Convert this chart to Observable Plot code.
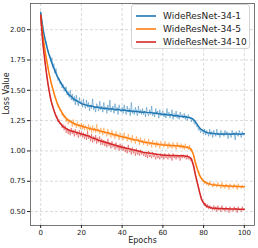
<!DOCTYPE html>
<html>
<head>
<meta charset="utf-8">
<script src="https://cdn.jsdelivr.net/npm/d3@7"></script>
<script src="https://cdn.jsdelivr.net/npm/@observablehq/plot@0.6"></script>
<style>
  body { margin: 0; background: #fff; }
  #wrap { position: relative; width: 258px; height: 248px; font-family: "DejaVu Sans", sans-serif; }
  #legend { position: absolute; left: 131px; top: 4px; width: 119px; height: 45px; box-sizing: border-box;
    border: 1px solid #d4d4d4; border-radius: 3px; background: rgba(255,255,255,0.85); padding-top: 4px; }
  .row { height: 13px; display: flex; align-items: center; font-size: 9px; color: #222; white-space: nowrap; }
  .row svg { margin-left: 4px; margin-right: 7px; display: block; }
</style>
</head>
<body>
<div id="wrap"></div>
<script>
const seriesNames = ["WideResNet-34-1", "WideResNet-34-5", "WideResNet-34-10"];
const seriesColors = ["#1f77b4", "#ff7f0e", "#d62728"];
const xTicks = [0, 20, 40, 60, 80, 100];
const yTicks = [0.5, 0.75, 1.0, 1.25, 1.5, 1.75, 2.0];

// smoothed loss per epoch (0..100)
const blueMean = [
  2.14,2.02,1.93,1.86,1.80,1.75,1.70,1.66,1.62,1.59,
  1.56,1.53,1.51,1.48,1.46,1.45,1.43,1.42,1.41,1.40,
  1.39,1.385,1.38,1.375,1.37,1.372,1.365,1.36,1.362,1.355,
  1.355,1.35,1.352,1.348,1.346,1.348,1.342,1.34,1.343,1.338,
  1.335,1.337,1.333,1.33,1.332,1.328,1.326,1.328,1.323,1.322,
  1.32,1.322,1.318,1.316,1.318,1.313,1.31,1.312,1.306,1.304,
  1.30,1.303,1.298,1.296,1.298,1.292,1.29,1.292,1.286,1.284,
  1.282,1.284,1.278,1.275,1.27,1.26,1.24,1.215,1.19,1.175,
  1.165,1.155,1.15,1.148,1.145,1.143,1.142,1.14,1.14,1.138,
  1.14,1.139,1.14,1.138,1.14,1.141,1.139,1.14,1.138,1.14,1.142
];
const orangeMean = [
  2.12,1.96,1.84,1.74,1.65,1.57,1.51,1.45,1.40,1.36,
  1.33,1.30,1.28,1.26,1.25,1.24,1.23,1.22,1.215,1.21,
  1.205,1.20,1.195,1.19,1.185,1.18,1.178,1.175,1.17,1.165,
  1.16,1.157,1.153,1.15,1.145,1.14,1.135,1.13,1.125,1.12,
  1.117,1.113,1.11,1.105,1.10,1.097,1.093,1.09,1.085,1.08,
  1.075,1.072,1.07,1.067,1.065,1.062,1.06,1.058,1.055,1.052,
  1.05,1.048,1.047,1.046,1.045,1.044,1.043,1.042,1.04,1.038,
  1.035,1.032,1.03,1.025,1.01,0.97,0.90,0.845,0.80,0.77,
  0.75,0.74,0.732,0.727,0.722,0.72,0.718,0.716,0.715,0.714,
  0.713,0.712,0.71,0.71,0.709,0.708,0.707,0.706,0.706,0.705,0.705
];
const redMean = [
  2.12,1.90,1.75,1.62,1.51,1.42,1.36,1.31,1.27,1.24,
  1.22,1.20,1.19,1.18,1.17,1.165,1.16,1.155,1.15,1.145,
  1.14,1.135,1.13,1.125,1.12,1.11,1.105,1.10,1.09,1.085,
  1.08,1.075,1.07,1.065,1.06,1.055,1.05,1.045,1.04,1.035,
  1.03,1.027,1.023,1.02,1.015,1.01,1.007,1.003,1.0,0.995,
  0.99,0.988,0.985,0.982,0.98,0.978,0.975,0.972,0.97,0.968,
  0.965,0.965,0.964,0.963,0.963,0.962,0.962,0.961,0.96,0.96,
  0.96,0.958,0.955,0.95,0.935,0.88,0.80,0.73,0.66,0.60,
  0.57,0.55,0.54,0.535,0.53,0.528,0.527,0.526,0.525,0.525,
  0.524,0.523,0.523,0.522,0.522,0.521,0.521,0.52,0.52,0.52,0.52
];

// raw (noisy) loss, two readings per epoch (epoch 0, 0.5, 1, ... 100)
const blueRaw = [
  2.15,2.09,2.04,1.97,1.94,1.91,1.88,1.82,1.80,1.79,1.74,1.77,1.69,1.72,1.64,1.68,1.63,1.58,1.60,1.55,
  1.57,1.52,1.55,1.49,1.51,1.53,1.46,1.49,1.44,1.50,1.42,1.47,1.41,1.45,1.38,1.46,1.40,1.37,1.44,1.39,
  1.41,1.36,1.43,1.37,1.35,1.42,1.36,1.40,1.33,1.38,1.35,1.43,1.34,1.37,1.32,1.39,1.36,1.33,1.41,1.34,
  1.37,1.32,1.40,1.34,1.36,1.31,1.38,1.33,1.42,1.32,1.35,1.37,1.31,1.39,1.33,1.36,1.30,1.38,1.34,1.32,
  1.36,1.31,1.38,1.33,1.30,1.37,1.32,1.35,1.29,1.40,1.31,1.34,1.30,1.36,1.32,1.29,1.37,1.31,1.34,1.30,
  1.35,1.30,1.33,1.28,1.36,1.31,1.29,1.34,1.30,1.37,1.29,1.32,1.28,1.35,1.30,1.33,1.27,1.34,1.29,1.31,
  1.33,1.28,1.31,1.27,1.35,1.29,1.32,1.27,1.30,1.34,1.26,1.31,1.28,1.33,1.27,1.30,1.26,1.32,1.28,1.30,
  1.27,1.31,1.26,1.29,1.25,1.30,1.27,1.28,1.24,1.27,1.25,1.22,1.24,1.20,1.21,1.17,1.19,1.15,1.18,1.16,
  1.14,1.18,1.13,1.17,1.15,1.12,1.18,1.13,1.16,1.11,1.17,1.14,1.12,1.18,1.13,1.15,1.11,1.17,1.13,1.15,
  1.12,1.17,1.13,1.16,1.10,1.15,1.14,1.11,1.17,1.13,1.15,1.09,1.16,1.13,1.12,1.17,1.14,1.11,1.16,1.13,1.14
];
const orangeRaw = [
  2.12,2.03,1.97,1.89,1.84,1.78,1.74,1.69,1.64,1.61,1.58,1.52,1.51,1.47,1.44,1.42,1.39,1.36,1.37,1.33,
  1.34,1.29,1.31,1.27,1.29,1.24,1.27,1.22,1.26,1.23,1.25,1.20,1.26,1.21,1.23,1.19,1.24,1.20,1.22,1.18,
  1.23,1.18,1.22,1.17,1.21,1.19,1.16,1.22,1.17,1.20,1.15,1.21,1.16,1.19,1.15,1.22,1.16,1.18,1.14,1.19,
  1.17,1.13,1.19,1.14,1.16,1.12,1.18,1.13,1.15,1.11,1.17,1.12,1.14,1.10,1.16,1.12,1.14,1.09,1.15,1.11,
  1.13,1.09,1.15,1.10,1.12,1.08,1.14,1.09,1.11,1.07,1.13,1.08,1.10,1.06,1.12,1.08,1.10,1.05,1.11,1.07,
  1.09,1.05,1.10,1.06,1.08,1.04,1.10,1.05,1.07,1.03,1.09,1.05,1.07,1.03,1.08,1.04,1.06,1.02,1.08,1.04,
  1.06,1.03,1.08,1.04,1.06,1.02,1.07,1.03,1.05,1.02,1.07,1.03,1.05,1.01,1.07,1.03,1.05,1.02,1.06,1.02,
  1.05,1.01,1.06,1.02,1.04,1.01,1.05,1.00,1.02,0.99,0.98,0.95,0.91,0.89,0.85,0.84,0.81,0.78,0.78,0.76,
  0.76,0.73,0.75,0.72,0.74,0.71,0.75,0.72,0.73,0.70,0.74,0.71,0.73,0.70,0.74,0.71,0.72,0.69,0.74,0.70,
  0.72,0.69,0.73,0.70,0.72,0.68,0.73,0.70,0.71,0.69,0.73,0.70,0.72,0.68,0.73,0.70,0.71,0.69,0.72,0.70,0.71
];
const redRaw = [
  2.11,1.99,1.91,1.82,1.76,1.68,1.63,1.55,1.52,1.45,1.44,1.38,1.37,1.33,1.32,1.28,1.29,1.24,1.26,1.22,
  1.23,1.19,1.22,1.17,1.21,1.15,1.19,1.14,1.18,1.13,1.19,1.14,1.17,1.12,1.18,1.13,1.16,1.11,1.17,1.12,
  1.16,1.11,1.15,1.10,1.14,1.09,1.16,1.10,1.13,1.08,1.14,1.07,1.12,1.08,1.13,1.06,1.11,1.07,1.12,1.05,
  1.10,1.05,1.09,1.04,1.08,1.03,1.10,1.04,1.07,1.02,1.08,1.03,1.06,1.01,1.07,1.02,1.05,1.00,1.06,1.01,
  1.05,1.00,1.04,0.99,1.03,0.98,1.05,0.99,1.02,0.97,1.03,0.98,1.01,0.96,1.02,0.97,1.00,0.96,1.01,0.97,
  1.00,0.96,0.99,0.95,0.98,0.94,1.00,0.95,0.97,0.94,0.99,0.95,0.97,0.93,0.98,0.94,0.96,0.93,0.98,0.94,
  0.97,0.93,0.98,0.94,0.96,0.93,0.98,0.94,0.96,0.92,0.98,0.94,0.96,0.93,0.97,0.94,0.96,0.92,0.97,0.94,
  0.97,0.94,0.96,0.93,0.97,0.93,0.95,0.92,0.94,0.91,0.90,0.86,0.81,0.78,0.74,0.71,0.67,0.64,0.61,0.58,
  0.58,0.55,0.57,0.53,0.56,0.52,0.55,0.52,0.54,0.51,0.55,0.51,0.54,0.50,0.55,0.51,0.53,0.50,0.55,0.51,
  0.53,0.50,0.54,0.51,0.53,0.49,0.54,0.51,0.52,0.50,0.54,0.51,0.53,0.49,0.54,0.51,0.52,0.50,0.54,0.51,0.52
];

const means = [blueMean, orangeMean, redMean];
const raws = [blueRaw, orangeRaw, redRaw];
const meanRows = [];
const rawRows = [];
seriesNames.forEach((name, s) => {
  means[s].forEach((v, i) => meanRows.push({series: name, epoch: i, loss: v}));
  raws[s].forEach((v, k) => rawRows.push({series: name, epoch: k / 2, loss: v}));
});

const chart = Plot.plot({
  width: 258,
  height: 248,
  marginTop: 3,
  marginRight: 4,
  marginBottom: 23,
  marginLeft: 30,
  style: {fontFamily: "DejaVu Sans, sans-serif", fontSize: "7px", color: "#222", background: "transparent"},
  x: {domain: [-5, 105]},
  y: {domain: [0.385, 2.216]},
  color: {domain: seriesNames, range: seriesColors},
  marks: [
    Plot.gridX(xTicks, {stroke: "#b0b0b0", strokeOpacity: 0.8, strokeDasharray: "3,2", strokeWidth: 0.6}),
    Plot.gridY(yTicks, {stroke: "#b0b0b0", strokeOpacity: 0.8, strokeDasharray: "3,2", strokeWidth: 0.6}),
    Plot.lineY(rawRows, {x: "epoch", y: "loss", z: "series", stroke: "series", strokeOpacity: 0.45, strokeWidth: 1}),
    Plot.lineY(meanRows, {x: "epoch", y: "loss", z: "series", stroke: "series", strokeWidth: 1.5}),
    Plot.frame({stroke: "#555", strokeWidth: 0.8}),
    Plot.axisX(xTicks, {tickSize: 3, tickPadding: 2, label: null}),
    Plot.axisY(yTicks, {tickSize: 3, tickPadding: 2, tickFormat: d3.format(".2f"), label: null}),
    Plot.text(["Epochs"], {text: d => d, frameAnchor: "bottom", dy: 17, fontSize: 8, fill: "#222"}),
    Plot.text(["Loss Value"], {text: d => d, frameAnchor: "left", dx: -24.5, rotate: -90, fontSize: 8, fill: "#222"})
  ]
});

const wrap = document.getElementById("wrap");
wrap.appendChild(chart);
const legend = document.createElement("div");
legend.id = "legend";
seriesNames.forEach((name, i) => {
  const row = document.createElement("div");
  row.className = "row";
  row.innerHTML = `<svg width="20" height="4"><line x1="0" x2="20" y1="2" y2="2" stroke="${seriesColors[i]}" stroke-width="1.6"/></svg>`;
  const label = document.createElement("span");
  label.textContent = name;
  row.appendChild(label);
  legend.appendChild(row);
});
wrap.appendChild(legend);
</script>
</body>
</html>
